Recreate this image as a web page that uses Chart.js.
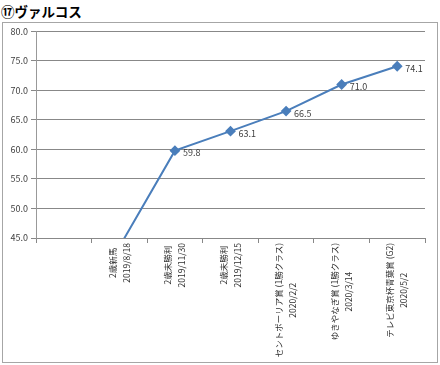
<!DOCTYPE html>
<html>
<head>
<meta charset="utf-8">
<script src="https://cdn.jsdelivr.net/npm/chart.js@4"></script>
<style>
body{margin:0;background:#fff;width:440px;height:365px;overflow:hidden;font-family:"Noto Sans CJK JP",sans-serif}
#title{position:absolute;left:1px;top:1px;font-size:13.5px;font-weight:bold;color:#000;line-height:20px}
#box{position:absolute;left:2px;top:22px;width:434px;height:339px;border:1px solid #a6a6a6}
</style>
</head>
<body>
<div id="title">⑰ヴァルコス</div>
<div id="box"><canvas id="chart" width="434" height="339"></canvas></div>
<script>
// レース名と日付（先頭は空のカテゴリ）
const raceNames = ['', '2歳新馬', '2歳未勝利', '2歳未勝利', 'セントポーリア賞 (1勝クラス)', 'ゆきやなぎ賞 (1勝クラス)', 'テレビ東京杯青葉賞 (G2)'];
const raceDates = ['', '2019/8/18', '2019/11/30', '2019/12/15', '2020/2/2', '2020/3/14', '2020/5/2'];
const ratings = [null, 43.5, 59.8, 63.1, 66.5, 71.0, 74.1];
const yMin = 45, yMax = 80, yStep = 5;

const labelFont = '9px "Noto Sans CJK JP", sans-serif';
const catFont = '8.5px "Noto Sans CJK JP", sans-serif';

// 値ラベル（点の右側）
const valueLabels = {
  id: 'valueLabels',
  afterDatasetsDraw(chart) {
    const {ctx, chartArea} = chart;
    const meta = chart.getDatasetMeta(0);
    ctx.save();
    ctx.font = labelFont;
    ctx.fillStyle = '#404040';
    ctx.textAlign = 'left';
    ctx.textBaseline = 'middle';
    meta.data.forEach((pt, i) => {
      const v = ratings[i];
      if (v == null || pt.y > chartArea.bottom) return;
      ctx.fillText(v.toFixed(1), pt.x + 8, pt.y + 2);
    });
    ctx.restore();
  }
};

// 縦書き風のX軸ラベル（2行を中央揃え）
const xLabels = {
  id: 'xLabels',
  afterDraw(chart) {
    const {ctx, chartArea} = chart;
    const xs = chart.scales.x;
    ctx.save();
    ctx.font = catFont;
    ctx.fillStyle = '#303030';
    ctx.textAlign = 'center';
    ctx.textBaseline = 'middle';
    chart.data.labels.forEach((lines, i) => {
      const x = xs.getPixelForValue(i);
      const w = Math.max(...lines.map(l => ctx.measureText(l).width));
      ctx.save();
      ctx.translate(x, chartArea.bottom + 5);
      ctx.rotate(-Math.PI / 2);
      lines.forEach((l, j) => ctx.fillText(l, -w / 2, (j - (lines.length - 1) / 2) * 14));
      ctx.restore();
    });
    ctx.restore();
  }
};

new Chart(document.getElementById('chart'), {
  type: 'line',
  data: {
    labels: raceNames.map((n, i) => [n, raceDates[i]]),
    datasets: [{
      data: ratings,
      borderColor: '#4A7EBB',
      backgroundColor: '#4A7EBB',
      borderWidth: 2,
      pointStyle: 'rectRot',
      pointRadius: 4,
      tension: 0
    }]
  },
  options: {
    responsive: false,
    animation: false,
    layout: {padding: {top: 8, right: 12, left: 0, bottom: 0}},
    plugins: {legend: {display: false}, tooltip: {enabled: false}},
    scales: {
      x: {
        offset: true,
        grid: {offset: true, drawOnChartArea: false, drawTicks: true, tickLength: 5, color: '#888'},
        border: {color: '#888'},
        ticks: {display: false},
        afterFit: s => { s.height = 124; }
      },
      y: {
        min: yMin,
        max: yMax,
        ticks: {
          stepSize: yStep,
          padding: 3,
          color: '#404040',
          font: {size: 9, family: '"Noto Sans CJK JP", sans-serif'},
          callback: v => v.toFixed(1)
        },
        grid: {color: '#888', tickLength: 5},
        border: {color: '#999'},
        afterFit: s => { s.width = 33; }
      }
    }
  },
  plugins: [valueLabels, xLabels]
});
</script>
</body>
</html>
